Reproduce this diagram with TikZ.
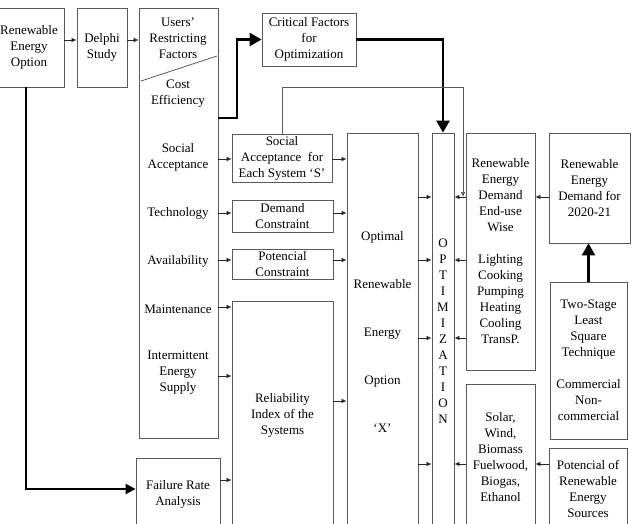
\documentclass[tikz,border=0pt]{standalone}
\usepackage{fontspec}
\setmainfont{Liberation Serif}
\usetikzlibrary{arrows.meta,calc}
\begin{document}
\begin{tikzpicture}[x=1pt,y=-1pt,
  every node/.style={font=\fontsize{13}{16}\selectfont},
  box/.style={draw=black!65, line width=0.8pt, rectangle, inner sep=0pt, align=center},
  txt/.style={align=center, inner sep=0pt},
  arr/.style={draw=black!85, line width=0.7pt, -{Latex[length=5pt,width=4.5pt]}},
  heavyarr/.style={draw=black, line width=2.6pt, -{Triangle[length=12pt,width=13pt]}},
  heavyarrb/.style={draw=black, line width=2pt, -{Triangle[length=10pt,width=10pt]}},
  thinline/.style={draw=black!65, line width=0.8pt}]
\useasboundingbox (0,0) rectangle (634,524);
\clip (0,0) rectangle (634,524);

% boxes
\node[box, minimum width=70pt, minimum height=79pt] (reo) at (29,47.5) {Renewable\\Energy\\Option};
\node[box, minimum width=50pt, minimum height=79pt] (delphi) at (102,47.5) {Delphi\\Study};
\node[box, minimum width=79pt, minimum height=430pt] (users) at (178.5,223) {};
\node[box, minimum width=94pt, minimum height=53pt] (crit) at (309,39.5) {Critical Factors\\for\\Optimization};
\node[box, minimum width=100pt, minimum height=48pt] (soc) at (282,158) {Social\\Acceptance\ \ for\\Each System ‘S’};
\node[box, minimum width=101pt, minimum height=32pt] (dem) at (282.5,216) {Demand\\Constraint};
\node[box, minimum width=101pt, minimum height=30pt] (pot) at (282.5,264) {Potencial\\Constraint};
\node[box, minimum width=101pt, minimum height=229pt] (rel) at (282.5,415.5) {Reliability\\Index of the\\Systems};
\node[box, minimum width=84pt, minimum height=72pt] (fail) at (178,494) {Failure Rate\\Analysis};
\node[box, minimum width=71pt, minimum height=397pt] (opt) at (382.5,331.5) {Optimal\\[32pt]Renewable\\[32pt]Energy\\[32pt]Option\\[32pt]‘X’};
\node[box, minimum width=22pt, minimum height=397pt] (optim) at (443,331.5) {O\\P\\T\\I\\M\\I\\Z\\A\\T\\I\\O\\N};
\node[box, minimum width=69pt, minimum height=237pt] (enduse) at (500.5,251.5) {Renewable\\Energy\\Demand\\End-use\\Wise\\[16pt]Lighting\\Cooking\\Pumping\\Heating\\Cooling\\TransP.};
\node[box, minimum width=81pt, minimum height=110pt] (dem21) at (589.5,188) {Renewable\\Energy\\Demand for\\2020-21};
\node[box, minimum width=77pt, minimum height=157pt] (two) at (588.5,360.5) {Two-Stage\\Least\\Square\\Technique\\[16pt]Commercial\\Non-\\commercial};
\node[box, minimum width=78pt, minimum height=82pt] (potren) at (588,489) {Potencial of\\Renewable\\Energy\\Sources};
\node[box, minimum width=69pt, minimum height=146pt] (solar) at (500.5,457) {Solar,\\Wind,\\Biomass\\Fuelwood,\\Biogas,\\Ethanol};

% factors inside users box
\node[txt] (uf) at (178,38) {Users’\\Restricting\\Factors};
\draw[thinline] (141,81) -- (217,56);
\node[txt] (ce) at (178,93.5) {Cost\\Efficiency};
\node[txt] (sa) at (178,157.5) {Social\\Acceptance};
\node[txt] (tech) at (178,213) {Technology};
\node[txt] (avail) at (178,261) {Availability};
\node[txt] (maint) at (178,309) {Maintenance};
\node[txt] (inter) at (178,373) {Intermittent\\Energy\\Supply};

% arrows top row
\draw[arr] (reo.east |- 0,40) -- (delphi.west |- 0,40);
\draw[arr] (delphi.east |- 0,40) -- (users.west |- 0,40);
\draw[heavyarr] (users.east |- 0,118) -- (237,118) |- (crit.west);
\draw[heavyarr] (crit.east) -| (optim.north);
\draw[arr, draw=black!65] (soc.north) -- (282,87) -| (463,197);

% factors to constraint boxes
\draw[arr] (users.east |- 0,159) -- (soc.west |- 0,159);
\draw[arr] (users.east |- 0,213) -- (dem.west |- 0,213);
\draw[arr] (users.east |- 0,260) -- (pot.west |- 0,260);
\draw[arr] (users.east |- 0,307) -- (rel.west |- 0,307);
\draw[arr] (users.east |- 0,376) -- (rel.west |- 0,376);
\draw[arr] (fail.east |- 0,480) -- (rel.west |- 0,480);

% constraints to optimal
\draw[arr] (soc.east |- 0,159) -- (opt.west |- 0,159);
\draw[arr] (dem.east |- 0,213) -- (opt.west |- 0,213);
\draw[arr] (pot.east |- 0,260) -- (opt.west |- 0,260);
\draw[arr] (rel.east |- 0,401) -- (opt.west |- 0,401);

% optimal to optimization
\foreach \yy in {197,260,338,464} {
  \draw[arr] (opt.east |- 0,\yy) -- (optim.west |- 0,\yy);
}
\foreach \yy in {197,260,338} {
  \draw[arr] (enduse.west |- 0,\yy) -- (optim.east |- 0,\yy);
}
\draw[arr] (solar.west |- 0,464) -- (optim.east |- 0,464);
\draw[arr] (dem21.west |- 0,197) -- (enduse.east |- 0,197);
\draw[arr] (potren.west |- 0,464) -- (solar.east |- 0,464);
\draw[heavyarr] (two.north) -- (two.north |- dem21.south);

% renewable option to failure analysis
\draw[heavyarrb] (26,0 |- reo.south) |- (fail.west |- 0,489);
\end{tikzpicture}
\end{document}
